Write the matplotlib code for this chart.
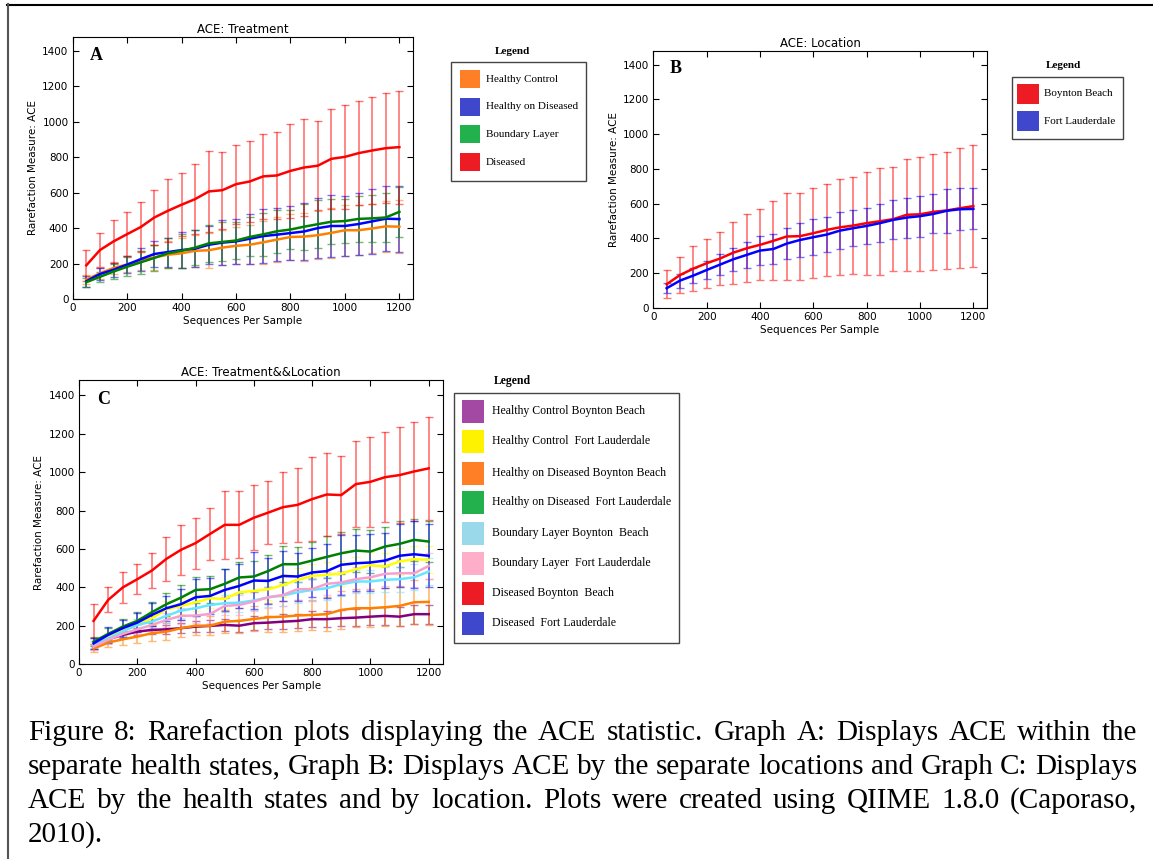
import numpy as np
import matplotlib
matplotlib.use('Agg')
import matplotlib.pyplot as plt
from matplotlib.patches import Rectangle
from matplotlib.lines import Line2D

W, H = 1153, 859

depths = list(range(50, 1201, 50))

# ---- Graph A: treatment ----
treat_labels = ['Healthy Control', 'Healthy on Diseased', 'Boundary Layer', 'Diseased']
treat_mean = [
    [110, 145, 175, 195, 218, 235, 250, 258, 272, 275, 290, 300, 306, 320, 335, 350, 352, 360, 373, 388, 388, 398, 410, 408],
    [100, 141, 165, 194, 225, 254, 265, 276, 284, 306, 318, 325, 340, 355, 363, 372, 381, 400, 412, 412, 423, 438, 453, 451],
    [95, 125, 155, 182, 207, 232, 258, 272, 290, 314, 322, 330, 350, 365, 382, 392, 408, 422, 436, 440, 452, 455, 460, 492],
    [190, 276, 325, 366, 406, 460, 498, 532, 564, 607, 614, 648, 663, 692, 697, 723, 742, 752, 791, 802, 823, 838, 851, 857],
]
treat_err = [
    [25, 30, 35, 45, 55, 70, 75, 85, 90, 100, 100, 105, 110, 120, 125, 130, 135, 135, 140, 145, 140, 140, 145, 150],
    [30, 35, 40, 50, 65, 75, 82, 102, 104, 106, 127, 127, 140, 153, 150, 153, 159, 170, 173, 168, 177, 182, 184, 185],
    [25, 30, 40, 55, 65, 75, 85, 95, 100, 105, 110, 105, 110, 120, 120, 110, 130, 135, 128, 125, 130, 133, 138, 140],
    [86, 96, 120, 126, 139, 156, 177, 178, 197, 227, 217, 222, 230, 238, 248, 265, 271, 250, 282, 294, 293, 303, 310, 319],
]
treat_line_colors = ['#ff8000', '#0000ff', '#008000', '#ff0000']
treat_swatches = ['#ff7f27', '#3f48cc', '#22b14c', '#ed1c24']

# ---- Graph B: location ----
loc_labels = ['Boynton Beach', 'Fort Lauderdale']
loc_mean = [
    [135, 188, 225, 256, 283, 317, 342, 362, 385, 410, 412, 429, 448, 463, 473, 487, 498, 510, 535, 538, 552, 560, 573, 585],
    [112, 156, 185, 217, 248, 279, 304, 329, 338, 369, 390, 406, 421, 444, 458, 471, 487, 506, 519, 527, 540, 558, 567, 569],
]
loc_err = [
    [82, 106, 131, 140, 152, 179, 196, 205, 228, 250, 250, 259, 264, 277, 281, 296, 308, 298, 323, 327, 333, 336, 346, 352],
    [30, 40, 45, 50, 60, 65, 75, 85, 88, 90, 100, 103, 100, 108, 105, 105, 108, 112, 115, 118, 112, 128, 122, 118],
]
loc_line_colors = ['#ff0000', '#0000ff']
loc_swatches = ['#ed1c24', '#3f48cc']

# ---- Graph C: treatment & location ----
tl_labels = ['Healthy Control Boynton Beach', 'Healthy Control  Fort Lauderdale',
             'Healthy on Diseased Boynton Beach', 'Healthy on Diseased  Fort Lauderdale',
             'Boundary Layer Boynton  Beach', 'Boundary Layer  Fort Lauderdale',
             'Diseased Boynton  Beach', 'Diseased  Fort Lauderdale']
tl_mean = [
    [92, 130, 153, 170, 179, 182, 188, 196, 200, 205, 201, 214, 217, 222, 226, 235, 235, 240, 243, 248, 252, 248, 261, 261],
    [101, 141, 175, 205, 240, 287, 304, 323, 344, 340, 375, 382, 391, 412, 440, 460, 466, 472, 495, 516, 509, 535, 547, 544],
    [82, 113, 130, 144, 162, 170, 188, 201, 201, 222, 226, 236, 245, 248, 254, 257, 261, 283, 292, 292, 297, 304, 323, 325],
    [118, 158, 196, 226, 271, 313, 347, 387, 391, 419, 452, 457, 486, 521, 521, 540, 559, 578, 592, 587, 613, 627, 648, 639],
    [101, 135, 170, 205, 222, 252, 280, 292, 309, 318, 321, 332, 349, 358, 375, 387, 396, 417, 431, 431, 440, 443, 453, 483],
    [92, 127, 158, 182, 205, 231, 252, 254, 262, 304, 309, 327, 349, 361, 391, 391, 419, 426, 443, 453, 471, 474, 474, 512],
    [226, 335, 400, 443, 488, 549, 596, 631, 679, 726, 726, 763, 790, 818, 830, 860, 884, 881, 938, 950, 974, 985, 1004, 1020],
    [109, 153, 188, 217, 257, 292, 313, 349, 356, 387, 408, 436, 434, 460, 457, 478, 485, 518, 526, 530, 540, 565, 573, 565],
]
tl_err = [
    [12, 15, 18, 20, 22, 25, 25, 28, 30, 30, 32, 35, 35, 38, 38, 40, 40, 42, 45, 45, 45, 48, 50, 50],
    [15, 20, 25, 30, 35, 40, 40, 45, 50, 50, 50, 55, 55, 60, 60, 60, 65, 65, 65, 70, 70, 70, 70, 70],
    [20, 25, 30, 35, 40, 45, 45, 50, 50, 60, 65, 65, 75, 80, 80, 80, 90, 100, 100, 100, 100, 105, 115, 120],
    [25, 30, 40, 45, 55, 60, 65, 68, 70, 75, 80, 80, 85, 95, 90, 95, 108, 110, 112, 110, 100, 120, 110, 105],
    [18, 22, 25, 30, 32, 35, 38, 40, 42, 45, 48, 50, 52, 55, 55, 58, 60, 60, 62, 62, 65, 65, 68, 70],
    [15, 20, 22, 25, 30, 35, 40, 40, 45, 45, 50, 50, 55, 55, 55, 60, 60, 60, 65, 65, 65, 70, 70, 70],
    [88, 65, 83, 78, 90, 115, 130, 133, 137, 177, 174, 170, 162, 184, 193, 217, 217, 201, 222, 235, 235, 248, 257, 267],
    [30, 40, 45, 50, 60, 65, 80, 95, 95, 110, 115, 150, 120, 130, 125, 130, 140, 155, 145, 150, 145, 165, 175, 165],
]
tl_line_colors = ['#800080', '#ffff00', '#ff8000', '#008000', '#66e6ff', '#f7a0d0', '#ff0000', '#0000ff']
tl_swatches = ['#a349a4', '#fff200', '#ff7f27', '#22b14c', '#99d9ea', '#ffaec9', '#ed1c24', '#3f48cc']

caption = [
    "Figure 8: Rarefaction plots displaying the ACE statistic. Graph A: Displays ACE within the",
    "separate health states, Graph B: Displays ACE by the separate locations and Graph C: Displays",
    "ACE by the health states and by location. Plots were created using QIIME 1.8.0 (Caporaso,",
    "2010).",
]


def fx(x):
    return x / W


def fy(y):
    return 1 - y / H


def panel(rect_px, title, letter, means, errs, colors):
    l, t, r, b = rect_px
    ax = fig.add_axes([fx(l), fy(b), (r - l) / W, (b - t) / H])
    for m, e, c in zip(means, errs, colors):
        ax.errorbar(depths, m, yerr=e, fmt='none', ecolor=c, elinewidth=1.2,
                    capsize=3, capthick=1, alpha=0.55)
    for m, c in zip(means, colors):
        ax.plot(depths, m, color=c, lw=1.8)
    ax.set_xlim(0, 1250)
    ax.set_ylim(0, 1480)
    ax.set_xticks(range(0, 1201, 200))
    ax.set_yticks(range(0, 1401, 200))
    ax.tick_params(direction='in', top=True, right=True, labelsize=7.5, length=4, pad=3)
    ax.set_title(title, fontsize=8.5, pad=3)
    ax.set_xlabel('Sequences Per Sample', fontsize=7.5, labelpad=2)
    ax.set_ylabel('Rarefaction Measure: ACE', fontsize=7.5, labelpad=3)
    ax.text(0.05, 0.93, letter, transform=ax.transAxes, fontsize=13, fontweight='bold',
            family='Liberation Serif', va='center', ha='left')
    return ax


def legend_box(title_xy, box, rows, labels, swatches, sw_x, sw_w, sw_h, text_x, fs):
    fig.text(fx(title_xy[0]), fy(title_xy[1]), 'Legend', family='Liberation Serif',
             fontweight='bold', fontsize=fs, ha='center', va='center')
    l, t, r, b = box
    fig.add_artist(Rectangle((fx(l), fy(b)), (r - l) / W, (b - t) / H,
                             transform=fig.transFigure, fill=False, ec='#444444', lw=1))
    for y, lab, c in zip(rows, labels, swatches):
        fig.add_artist(Rectangle((fx(sw_x), fy(y + sw_h / 2)), sw_w / W, sw_h / H,
                                 transform=fig.transFigure, fc=c, ec='none'))
        fig.text(fx(text_x), fy(y), lab, family='Liberation Serif', fontsize=fs,
                 ha='left', va='center')


fig = plt.figure(figsize=(W / 100, H / 100), dpi=100)

panel((72.7, 36.7, 413, 299), 'ACE: Treatment', 'A', treat_mean, treat_err, treat_line_colors)
panel((653.3, 50.7, 986.7, 307.7), 'ACE: Location', 'B', loc_mean, loc_err, loc_line_colors)
panel((79, 380, 443.3, 664.3), 'ACE: Treatment&&Location', 'C', tl_mean, tl_err, tl_line_colors)

legend_box((512, 51), (451, 62, 586, 181), [79, 106.7, 134.3, 162.3], treat_labels,
           treat_swatches, 460, 20, 18, 486, 8)
legend_box((1063, 66), (1012, 77, 1123, 139), [94, 121], loc_labels,
           loc_swatches, 1017, 22, 20, 1044, 8)
legend_box((512, 381), (454, 393, 679, 643), [411, 441, 473, 502, 533, 563, 593, 623],
           tl_labels, tl_swatches, 462, 22, 23, 492, 8.5)

# page frame lines
fig.add_artist(Line2D([fx(7), 1], [fy(4.5), fy(4.5)], transform=fig.transFigure, color='black', lw=1.5))
fig.add_artist(Line2D([fx(7.5), fx(7.5)], [0, fy(4)], transform=fig.transFigure, color='#555555', lw=1.5))

# justified caption
renderer = fig.canvas.get_renderer()
x0, x1 = 28, 1137
line_ys = [733, 767, 801, 835]
cap_fs = 21
for k, (line, y) in enumerate(zip(caption, line_ys)):
    words = line.split(' ')
    if k == len(caption) - 1:
        fig.text(fx(x0), fy(y), line, family='Liberation Serif', fontsize=cap_fs, va='center')
        continue
    widths = []
    for w in words:
        t = fig.text(0, 0, w, family='Liberation Serif', fontsize=cap_fs)
        widths.append(t.get_window_extent(renderer).width)
        t.remove()
    gap = max((x1 - x0 - sum(widths)) / (len(words) - 1), 3)
    x = x0
    for w, wd in zip(words, widths):
        fig.text(fx(x), fy(y), w, family='Liberation Serif', fontsize=cap_fs, va='center')
        x += wd + gap

fig.savefig('out.png', dpi=100)
